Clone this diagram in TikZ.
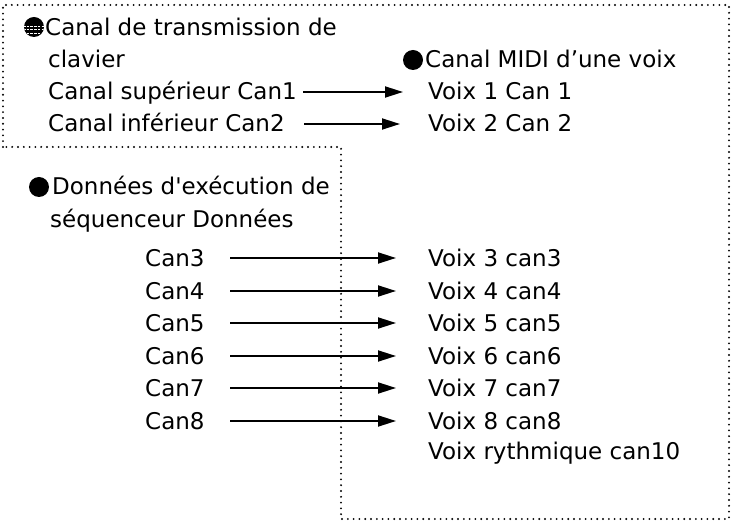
\documentclass[tikz,border=0pt]{standalone}
\usepackage{fontspec}
\setmainfont{DejaVu Sans}
\usetikzlibrary{arrows.meta}
\begin{document}
\begin{tikzpicture}[x=1pt,y=-1pt,
  lbl/.style={anchor=base west, inner sep=0pt, font=\fontsize{23}{28}\selectfont},
  frame/.style={line width=2.1pt, dash pattern=on 0pt off 5.8pt, line cap=round},
  arr/.style={line width=1.8pt, -{Triangle[length=18pt,width=11pt]}},
  blt/.style={circle, fill=black, minimum size=20pt, inner sep=0pt}]
\useasboundingbox (0,0) rectangle (734,526);
% dotted frame
\draw[frame] (3,147) -- (3,5) -- (729,5) -- (729,519) -- (341,519) -- (341,147) -- cycle;
% top-left block
\node[blt] (b1) at (34,27) {};
\begin{scope}
  \clip (b1.center) circle (10);
  \foreach \yy in {26,29.5,33}
    \draw[white, line width=0.9pt, dash pattern=on 2.5pt off 1.2pt] (23,\yy) -- (46,\yy);
\end{scope}
\node[lbl] (t1) at (45,36) {Canal de transmission de};
\node[lbl] (t2) at (48,68) {clavier};
\node[lbl] (t3) at (48,100) {Canal supérieur Can1};
\node[lbl] (t4) at (48,132) {Canal inférieur Can2};
% right heading
\node[blt] (b2) at (413,60) {};
\node[lbl] (m0) at (425,68) {Canal MIDI d’une voix};
\node[lbl] (v1) at (428,100) {Voix 1 Can 1};
\node[lbl] (v2) at (428,132) {Voix 2 Can 2};
\coordinate (s1) at (303,92);  \coordinate (e1) at (403,92);
\coordinate (s2) at (304,124); \coordinate (e2) at (400,124);
\draw[arr] (s1) -- (e1);
\draw[arr] (s2) -- (e2);
% sequencer block
\node[blt] (b3) at (39,187) {};
\node[lbl] (d1) at (52,195) {Données d\textquotesingle exécution de};
\node[lbl] (d2) at (50,228) {séquenceur Données};
\foreach \i/\yl in {3/258,4/291,5/323,6/356,7/388,8/421} {
  \node[lbl] (c\i) at (145,\yl+8.5) {Can\i};
  \node[lbl] (w\i) at (428,\yl+8.5) {Voix \i\ can\i};
  \coordinate (sc\i) at (230,\yl);
  \coordinate (ec\i) at (396,\yl);
  \draw[arr] (sc\i) -- (ec\i);
}
\node[lbl] (r0) at (428,460) {Voix rythmique can10};
\end{tikzpicture}
\end{document}
